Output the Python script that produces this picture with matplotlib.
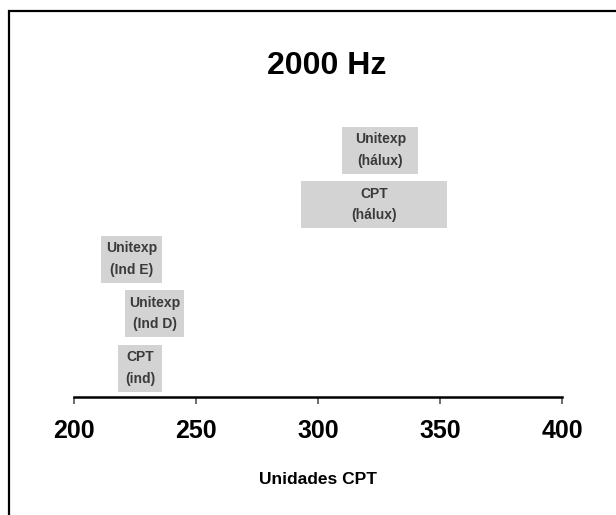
import numpy as np
import matplotlib
matplotlib.use("Agg")
import matplotlib.pyplot as plt
from matplotlib.patches import Rectangle

plt.rcParams['font.family'] = ['Liberation Sans', 'DejaVu Sans']

# ranges (CPT units)
labels = ["CPT\n(ind)", "Unitexp\n(Ind D)", "Unitexp\n(Ind E)", "CPT\n(hálux)", "Unitexp\n(hálux)"]
low = [218, 221, 211, 293, 310]
high = [236, 245, 236, 353, 341]
xticks = [200, 250, 300, 350, 400]

W, H = 616, 515
fig = plt.figure(figsize=(W / 100, H / 100), dpi=100)

# axes placed in pixel terms
left, right, bottom, top = 74, 562, 397, 100
ax = fig.add_axes([left / W, (H - bottom) / H, (right - left) / W, (bottom - top) / H])

y = np.arange(len(labels))
lo = np.array(low)
hi = np.array(high)
ax.barh(y, hi - lo, left=lo, height=0.86, color='#d3d3d3', edgecolor='none')
for yi, l, h, lab in zip(y, lo, hi, labels):
    ax.text((l + h) / 2, yi, lab, ha='center', va='center', fontsize=10,
            fontweight='bold', color='#3a3a3a', linespacing=1.7)

ax.set_xlim(200, 400)
ax.set_ylim(-0.53, 4.92)
ax.set_xticks(xticks)
ax.set_xticklabels([str(t) for t in xticks], fontsize=18, fontweight='bold')
ax.tick_params(axis='x', length=5, width=1.2, pad=11, color='#555555')
ax.set_yticks([])
for s in ['left', 'right', 'top']:
    ax.spines[s].set_visible(False)
ax.spines['bottom'].set_linewidth(1.8)
ax.set_xlabel('Unidades CPT', fontsize=12.5, fontweight='bold', labelpad=21)

fig.text(327 / W, 1 - 66 / H, '2000 Hz', ha='center', va='center',
         fontsize=23, fontweight='bold')

# outer frame
fig.add_artist(Rectangle((9 / W, -0.05), 1.1, 1 - 11 / H + 0.05,
                         transform=fig.transFigure, fill=False,
                         edgecolor='black', linewidth=1.6, clip_on=False))

fig.savefig('out.png', dpi=100, facecolor='white')
